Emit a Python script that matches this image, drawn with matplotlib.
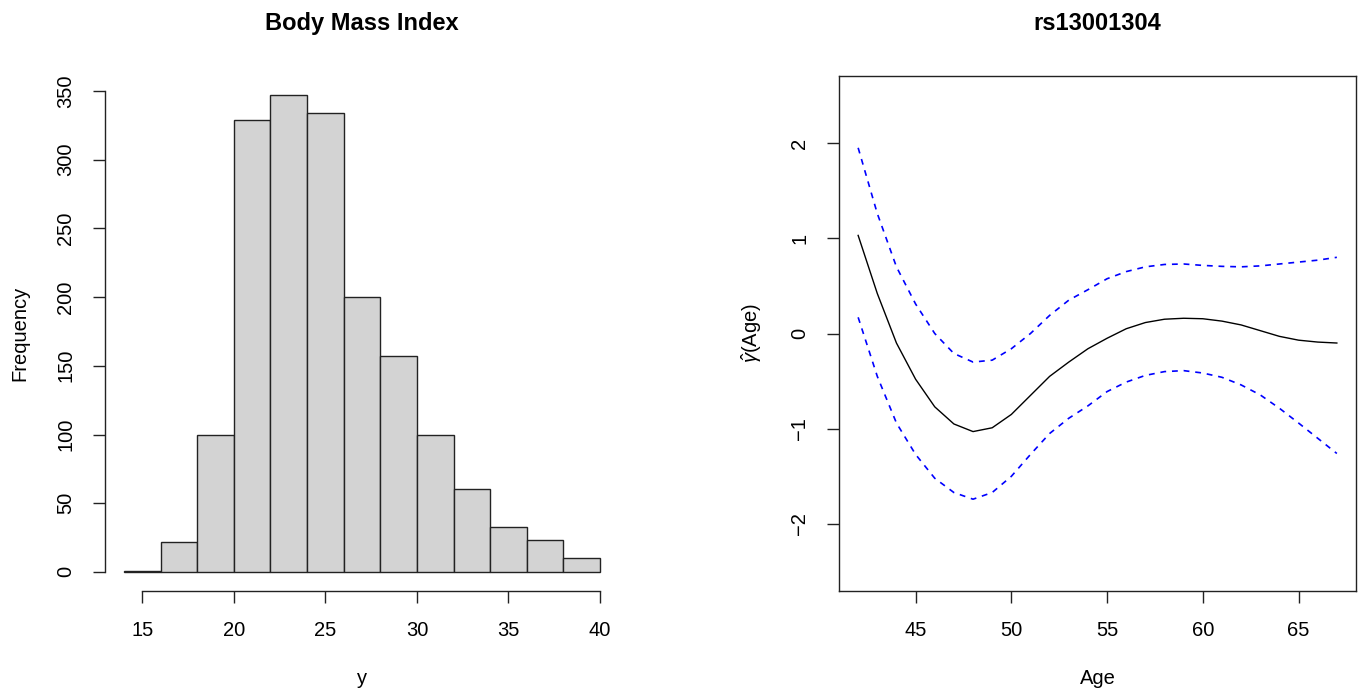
import numpy as np
import matplotlib
matplotlib.use('Agg')
import matplotlib.pyplot as plt

plt.rcParams['font.family'] = ['Liberation Sans', 'DejaVu Sans']
plt.rcParams['mathtext.fontset'] = 'custom'
plt.rcParams['mathtext.rm'] = 'Liberation Sans'
plt.rcParams['mathtext.it'] = 'Liberation Sans:italic'

# histogram of BMI (bin edges and counts)
bmi_edges = [14, 16, 18, 20, 22, 24, 26, 28, 30, 32, 34, 36, 38, 40]
bmi_counts = [1, 22, 100, 329, 347, 334, 200, 157, 100, 60, 33, 23, 10]
bmi_xticks = [15, 20, 25, 30, 35, 40]
bmi_yticks = [0, 50, 100, 150, 200, 250, 300, 350]

# smooth effect of age with confidence band
age = [42, 43, 44, 45, 46, 47, 48, 49, 50, 51, 52, 53, 54,
       55, 56, 57, 58, 59, 60, 61, 62, 63, 64, 65, 66, 67]
gamma_hat = [1.03, 0.42, -0.10, -0.48, -0.77, -0.95, -1.03, -0.99, -0.85, -0.65,
             -0.45, -0.30, -0.16, -0.05, 0.05, 0.115, 0.15, 0.16, 0.155, 0.13,
             0.09, 0.03, -0.03, -0.07, -0.09, -0.10]
upper = [1.95, 1.26, 0.70, 0.31, 0.00, -0.21, -0.30, -0.28, -0.16, 0.00,
         0.19, 0.35, 0.46, 0.575, 0.65, 0.70, 0.725, 0.73, 0.715, 0.705,
         0.70, 0.71, 0.73, 0.75, 0.77, 0.80]
lower = [0.17, -0.45, -0.94, -1.27, -1.52, -1.67, -1.74, -1.67, -1.50, -1.27,
         -1.05, -0.89, -0.76, -0.61, -0.51, -0.44, -0.40, -0.39, -0.415, -0.46,
         -0.54, -0.645, -0.785, -0.94, -1.10, -1.26]
age_xticks = [45, 50, 55, 60, 65]
gamma_yticks = [-2, -1, 0, 1, 2]

fs = 14.5
fig = plt.figure(figsize=(13.6, 6.94), dpi=100)

# left panel: histogram
ax1 = fig.add_axes([105/1360, 103/694, 514/1360, 515/694])
widths = np.diff(bmi_edges)
ax1.bar(bmi_edges[:-1], bmi_counts, width=widths, align='edge',
        color='#d3d3d3', edgecolor='#222222', linewidth=1.0)
ax1.set_xlim(12.96, 41.04)
ax1.set_ylim(-13.88, 360.88)
ax1.spines['top'].set_visible(False)
ax1.spines['right'].set_visible(False)
ax1.spines['left'].set_bounds(0, 350)
ax1.spines['bottom'].set_bounds(15, 40)
ax1.set_xticks(bmi_xticks)
ax1.set_yticks(bmi_yticks)
ax1.set_yticklabels([str(v) for v in bmi_yticks], rotation=90, va='center')
ax1.set_title('Body Mass Index', fontsize=17, fontweight='bold', pad=33)
ax1.set_xlabel('y', fontsize=fs, labelpad=21)
ax1.set_ylabel('Frequency', fontsize=fs, labelpad=19)

# right panel: age effect
ax2 = fig.add_axes([839/1360, 103/694, 517/1360, 515/694])
ax2.plot(age, gamma_hat, color='black', linewidth=1.0)
ax2.plot(age, upper, color='#0000ff', linewidth=1.2, linestyle=(0, (3.5, 3.5)))
ax2.plot(age, lower, color='#0000ff', linewidth=1.2, linestyle=(0, (3.5, 3.5)))
ax2.set_xlim(41, 68)
ax2.set_ylim(-2.704, 2.704)
ax2.set_xticks(age_xticks)
ax2.set_yticks(gamma_yticks)
ax2.set_yticklabels([str(v).replace('-', '\u2212') for v in gamma_yticks],
                    rotation=90, va='center')
ax2.set_title('rs13001304', fontsize=17, fontweight='bold', pad=33)
ax2.set_xlabel('Age', fontsize=fs, labelpad=21)
ax2.set_ylabel(r'$\hat{\gamma}$(Age)', fontsize=fs, labelpad=19)

for ax in (ax1, ax2):
    for sp in ax.spines.values():
        sp.set_color('#222222')
        sp.set_linewidth(1.0)
    ax.tick_params(length=8.5, width=1.0, color='#222222', labelsize=fs, pad=13)

fig.savefig('out.png', dpi=100)
